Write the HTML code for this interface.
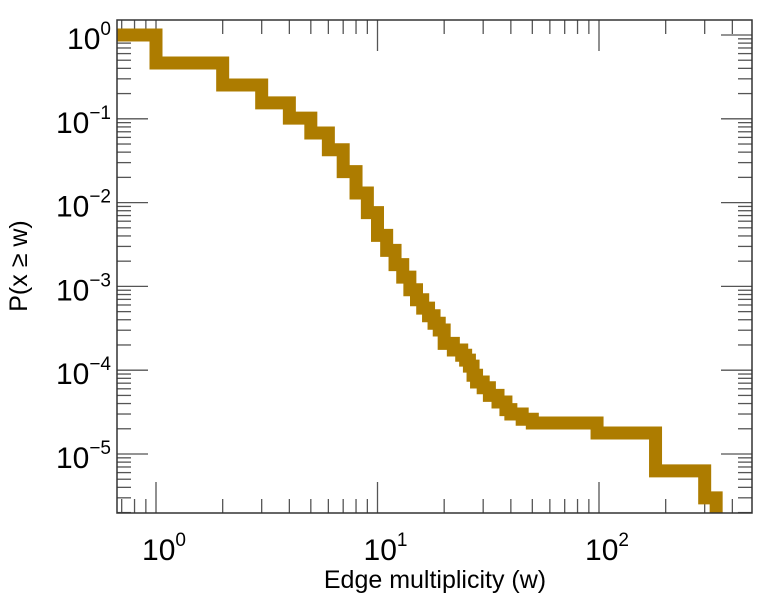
<!DOCTYPE html>
<html><head><meta charset="utf-8"><style>
html,body{margin:0;padding:0;background:#fff;}
svg{display:block;font-family:"Liberation Sans",sans-serif;}
</style></head><body>
<svg id="chart" width="759" height="600">
<g id="ticks"></g>
<g id="labels"></g>
<path id="series" fill="none" stroke="#ad7c00" stroke-width="13" stroke-linejoin="miter" stroke-linecap="butt"/>
<rect x="117" y="20" width="635" height="493" fill="none" stroke="#333" stroke-width="1.5"/>
<text x="435" y="588" font-size="25" text-anchor="middle" fill="#000">Edge multiplicity (w)</text>
<text transform="translate(27,266) rotate(-90)" font-size="25" text-anchor="middle" fill="#000">P(x ≥ w)</text>
</svg>
<script>
// each level pVals[i] is held until wVals[i]
const wVals=[1,2,3,4,5,6,7,8,9,10,11,12,13,14,15,16,17,18,19,20,22,24,25,26,27,28,30,32,35,38,40,45,50,98,180,300,338];
const pVals=[1,0.463,0.253,0.155,0.102,0.0676,0.0427,0.0234,0.0130,0.00759,0.00407,0.00269,0.00182,0.00129,0.000912,0.000692,0.000550,0.000447,0.000363,0.000302,0.000209,0.000174,0.000151,0.000132,0.000112,0.0000871,0.0000724,0.0000617,0.0000501,0.0000417,0.0000339,0.0000300,0.0000260,0.0000234,0.0000178,0.0000063,0.000003];
const xTickExps=[0,1,2];
const yTickExps=[0,-1,-2,-3,-4,-5];
const L=117,R=752,T=20,B=513;
const X0=156,XD=221.5,Y0=35,YD=83.8;
const xs=w=>X0+Math.log10(w)*XD;
const ys=p=>Y0-Math.log10(p)*YD;
const NS="http://www.w3.org/2000/svg";
let d="M"+L+","+ys(pVals[0]);
for(let i=0;i<wVals.length;i++){
  const y=ys(pVals[i]);
  if(i>0)d+=" L"+xs(wVals[i-1])+","+y;
  d+=" L"+xs(wVals[i])+","+y;
}
d+=" L"+xs(wVals[wVals.length-1])+","+B;
document.getElementById('series').setAttribute('d',d);
const tg=document.getElementById('ticks');
function line(x1,y1,x2,y2,name){
  const l=document.createElementNS(NS,'line');
  l.setAttribute('x1',x1);l.setAttribute('y1',y1);l.setAttribute('x2',x2);l.setAttribute('y2',y2);
  l.setAttribute('stroke','#555');l.setAttribute('stroke-width','1.3');
  
  
  tg.appendChild(l);
}
for(let e=-1;e<=3;e++){for(let m=1;m<10;m++){
  const x=xs(m*Math.pow(10,e)); if(x<L||x>R)continue;
  const len=m===1?31:14;
  line(x,B,x,B-len,'x-tick');line(x,T,x,T+len,'x-tick');
}}
for(let e=-6;e<=0;e++){for(let m=1;m<10;m++){
  const y=ys(m*Math.pow(10,e)); if(y<T||y>B)continue;
  const len=m===1?31:14;
  line(L,y,L+len,y,'y-tick');line(R,y,R-len,y,'y-tick');
}}
const lg=document.getElementById('labels');
function lab(x,y,exp,anchor,name){
  const t=document.createElementNS(NS,'text');
  t.setAttribute('x',x);t.setAttribute('y',y);t.setAttribute('text-anchor',anchor);
  t.setAttribute('font-size','30');
  
  
  t.innerHTML='10<tspan font-size="19" dy="-14">'+exp+'</tspan>';
  lg.appendChild(t);
}
xTickExps.forEach(e=>lab(xs(Math.pow(10,e))+8,560,String(e),'middle','x-tick-label'));
yTickExps.forEach(e=>lab(L-6,ys(Math.pow(10,e))+14,e<0?'\u2212'+(-e):String(e),'end','y-tick-label'));
</script>
</body></html>
